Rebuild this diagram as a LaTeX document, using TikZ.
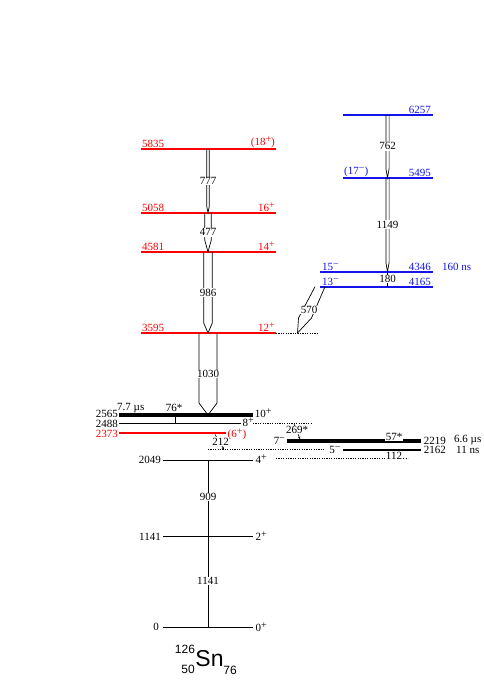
\documentclass[tikz,border=0pt]{standalone}
\usepackage{fontspec}
\setmainfont{Liberation Serif}
\newfontfamily\helv{Liberation Sans}
\usetikzlibrary{arrows.meta,positioning}
\definecolor{lvred}{RGB}{255,0,0}
\definecolor{lvblue}{RGB}{20,20,235}

\newcommand{\spin}[1]{\raisebox{0.6ex}{\fontsize{10}{10}\selectfont #1}}

\tikzset{
  levred/.style={line width=2pt, lvred},
  levblue/.style={line width=2pt, lvblue},
  lev/.style={line width=0.9pt},
  levthick/.style={line width=4pt},
  ext/.style={line width=0.8pt, dash pattern=on 1.2pt off 1.2pt},
  gam/.style={line width=0.7pt, line join=miter},
  gamthin/.style={line width=1pt},
  gamtip/.style={line width=0.6pt, -{Stealth[length=2.5pt,width=2.5pt]}},
  glab/.style={fill=white, inner sep=0.6pt},
  eleft/.style={above right, inner sep=1pt},
  eright/.style={above left, inner sep=1pt},
}

% wide transition arrow: x, ytop, ybot, half width, head length, name, label
\newcommand{\widegam}[7]{%
  \draw[gam] (#1-#4,#2) -- (#1-#4,#3-#5) -- (#1,#3) -- (#1+#4,#3-#5) -- (#1+#4,#2);
  \node[glab] (#6) at (#1,{(#2+#3)/2}) {#7};
}

\begin{document}
\begin{tikzpicture}[x=1pt,y=-1pt]
\tikzstyle{every node}=[font=\fontsize{11}{13}\selectfont]
\useasboundingbox (0,0) rectangle (484,698);

% red band
\draw[levred] (141,149) -- (276,149);
\draw[levred] (141,212.7) -- (276,212.7);
\draw[levred] (141,252) -- (276,252);
\draw[levred] (141,333) -- (276,333);
\draw[levred] (119,433.3) -- (226,433.3);
\node[eleft, lvred] (e5835) at (141,149) {5835};
\node[eright, lvred] (j5835) at (276,149) {(18\spin{+})};
\node[eleft, lvred] (e5058) at (141,212.7) {5058};
\node[eright, lvred] (j5058) at (276,212.7) {16\spin{+}};
\node[eleft, lvred] (e4581) at (141,252) {4581};
\node[eright, lvred] (j4581) at (276,252) {14\spin{+}};
\node[eleft, lvred] (e3595) at (141,333) {3595};
\node[eright, lvred] (j3595) at (276,333) {12\spin{+}};
\node[left, inner xsep=1pt, inner ysep=0pt, lvred] (e2373) at (119,433.8) {2373};
\node[right, inner xsep=1.5pt, inner ysep=0pt, lvred] (j2373) at (226,434) {(6\spin{+})};

% blue band
\draw[levblue] (343,115) -- (433,115);
\draw[levblue] (343,177.7) -- (433,177.7);
\draw[levblue] (320,271.7) -- (433,271.7);
\draw[levblue] (320,286.7) -- (433,286.7);
\node[eright, lvblue] (e6257) at (432,115) {6257};
\node[eleft, lvblue] (j5495) at (343,177.7) {(17\spin{−})};
\node[eright, lvblue] (e5495) at (432,177.7) {5495};
\node[eleft, lvblue] (j4346) at (321,271.7) {15\spin{−}};
\node[eright, lvblue] (e4346) at (432,271.7) {4346};
\node[eleft, lvblue] (j4165) at (321,286.7) {13\spin{−}};
\node[eright, lvblue] (e4165) at (432,286.7) {4165};
\node[eleft, lvblue] (t4346) at (441,271.7) {160 ns};

% black levels
\draw[levthick] (119,415) -- (252.7,415);
\draw[lev] (119,423) -- (241,423);
\draw[lev] (163,460.3) -- (253,460.3);
\draw[lev] (163,536.7) -- (253,536.7);
\draw[lev] (163,627.3) -- (253,627.3);
\draw[levthick] (286.7,440.5) -- (420.7,440.5);
\draw[line width=1.3pt] (342.7,450) -- (420.7,450);
\draw[ext] (276,333) -- (319,333);
\draw[ext] (253,423) -- (311,423);
\draw[ext] (208,449.5) -- (325,449.5);
\draw[ext] (276,458.5) -- (408,458.5);

\node[left, inner xsep=1pt, inner ysep=0pt] (e2565) at (119,413.6) {2565};
\node[left, inner xsep=1pt, inner ysep=0pt] (e2488) at (119,423.8) {2488};
\node[eleft] (t2565) at (116,414) {7.7 µs};
\node[right, inner sep=2pt] (j2565) at (252.7,413) {10\spin{+}};
\node[right, inner xsep=1.5pt, inner ysep=0pt] (j2488) at (241,422) {8\spin{+}};
\node[left, inner sep=2pt] (e2049) at (163,460.3) {2049};
\node[right, inner sep=2.5pt] (j2049) at (253,459) {4\spin{+}};
\node[left, inner sep=2pt] (e1141) at (163,536.7) {1141};
\node[right, inner sep=2.5pt] (j1141) at (253,536) {2\spin{+}};
\node[left, inner sep=4pt] (e0) at (163,627.3) {0};
\node[right, inner sep=2.5pt] (j0) at (253,627) {0\spin{+}};
\node[left, inner sep=1.5pt] (j2219) at (286.7,441) {7\spin{−}};
\node[left, inner sep=2pt] (j2162) at (342.7,449.5) {5\spin{−}};
\node[right, inner sep=3pt] (e2219) at (420.7,440.5) {2219};
\node[right, inner sep=3pt] (e2162) at (420.7,450) {2162};
\node[right, inner sep=0pt] (t2219) at (454,440) {6.6 µs};
\node[right, inner sep=0pt] (t2162) at (456,450) {11 ns};

% transitions
\widegam{208}{149}{212.7}{1.2}{6}{g777}{777}
\widegam{208}{212.7}{252}{3.3}{12}{g477}{477}
\widegam{208}{252}{333}{4.3}{10}{g986}{986}
\widegam{208}{333}{415}{9}{12}{g1030}{1030}
\widegam{387.5}{115}{177.7}{1.6}{9}{g762}{762}
\widegam{387.5}{177.7}{271.7}{1.6}{9}{g1149}{1149}
\draw[gam] (315,286.7) -- (298.5,318) -- (297.5,333) -- (311.5,318) -- (325,286.7);
\node[glab] (g570) at (309,310) {570};
\draw[gamthin] (387.5,271.7) -- (387.5,286.7);
\node[glab] (g180) at (387.5,279) {180};
\draw[gamthin] (175,415) -- (175,423);
\node[above, inner sep=1pt] (g76) at (174,413) {76*};
\draw[gamtip] (215,434.5) -- (224,449.5);
\node[glab] (g212) at (220.5,441.5) {212};
\draw[gamtip] (294,424) -- (300,439);
\node[glab] (g269) at (297,430) {269*};
\node[glab] (g57) at (394,437) {57*};
\node[glab] (g112) at (394,455.5) {112};
\draw[gamthin] (208,460.3) -- (208,536.7);
\node[glab] (g909) at (208,497) {909};
\draw[gamthin] (208,536.7) -- (208,627.3);
\node[glab] (g1141) at (208,581) {1141};

% nucleus
\node[inner sep=0pt] (sn) at (209.5,658.5) {\helv\fontsize{23}{23}\selectfont Sn};
\node[inner sep=0pt] (sna) at (185,649) {\helv\fontsize{12}{12}\selectfont 126};
\node[inner sep=0pt] (snz) at (188,669) {\helv\fontsize{12}{12}\selectfont 50};
\node[inner sep=0pt] (snn) at (230,670) {\helv\fontsize{12}{12}\selectfont 76};

\end{tikzpicture}
\end{document}
